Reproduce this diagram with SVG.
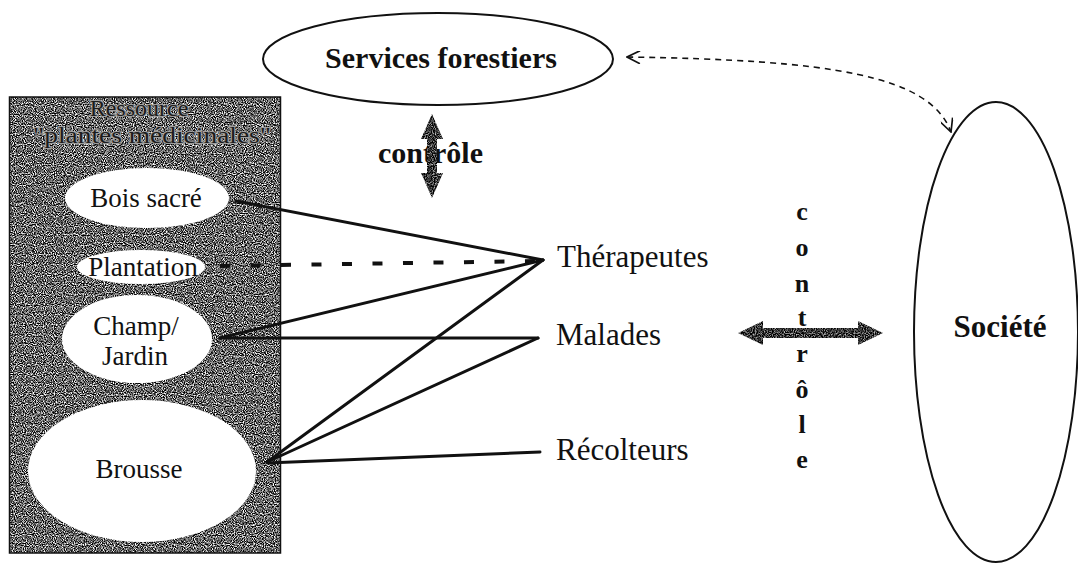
<svg xmlns="http://www.w3.org/2000/svg" width="1078" height="565" viewBox="0 0 1078 565">
  <defs>
    <style>
      text { font-family: "Liberation Serif", "Times New Roman", serif; }
      .zone-label { font-family: "Liberation Serif", "Times New Roman", serif; font-size: 27px; fill: #111; text-anchor: middle; }
      .actor { font-family: "Liberation Serif", "Times New Roman", serif; font-size: 31px; fill: #111; }
      .bold { font-family: "Liberation Serif", "Times New Roman", serif; font-weight: bold; fill: #111; }
      .title { font-family: "Liberation Serif", "Times New Roman", serif; font-size: 24px; fill: #1c1c1c; stroke: #a0a0a0; stroke-width: 2; paint-order: stroke; text-anchor: middle; }
      .zone { fill: #fff; stroke: none; }
      .link { stroke: #111; stroke-width: 3; stroke-linecap: round; fill: none; }
      .link-dash { stroke: #111; stroke-width: 4; stroke-dasharray: 10 20.5; fill: none; }
      .outline { fill: #fff; stroke: #111; stroke-width: 2; }
      .relation { fill: none; stroke: #111; stroke-width: 1.6; stroke-dasharray: 6 5; }
      .vletter { font-family: "Liberation Serif", "Times New Roman", serif; font-size: 26px; font-weight: bold; fill: #111; text-anchor: middle; }
    </style>
    <!-- grainy grey texture used for the resource box -->
    <filter id="grain" x="0%" y="0%" width="100%" height="100%" color-interpolation-filters="sRGB">
      <feTurbulence type="fractalNoise" baseFrequency="0.9" numOctaves="1" seed="7" result="noise"/>
      <feColorMatrix in="noise" type="matrix" values="1 0 0 0 0  1 0 0 0 0  1 0 0 0 0  0 0 0 0 1" result="gray"/>
      <feComponentTransfer in="gray" result="contrast">
        <feFuncR type="linear" slope="3" intercept="-1.1"/>
        <feFuncG type="linear" slope="3" intercept="-1.1"/>
        <feFuncB type="linear" slope="3" intercept="-1.1"/>
      </feComponentTransfer>
      <feComposite in="contrast" in2="SourceGraphic" operator="in"/>
    </filter>
    <!-- darker grain for the thick control arrows -->
    <filter id="grainDark" x="0%" y="0%" width="100%" height="100%" color-interpolation-filters="sRGB">
      <feTurbulence type="fractalNoise" baseFrequency="0.9" numOctaves="1" seed="3" result="noise"/>
      <feColorMatrix in="noise" type="matrix" values="1 0 0 0 0  1 0 0 0 0  1 0 0 0 0  0 0 0 0 1" result="gray"/>
      <feComponentTransfer in="gray" result="contrast">
        <feFuncR type="linear" slope="2" intercept="-0.78"/>
        <feFuncG type="linear" slope="2" intercept="-0.78"/>
        <feFuncB type="linear" slope="2" intercept="-0.78"/>
      </feComponentTransfer>
      <feComposite in="contrast" in2="SourceGraphic" operator="in"/>
    </filter>
    <marker id="chevron" viewBox="0 0 10 10" refX="10" refY="5" markerUnits="userSpaceOnUse" markerWidth="15" markerHeight="13" orient="auto-start-reverse">
      <path d="M0,0 L10,5 L0,10" fill="none" stroke="#111" stroke-width="1.3"/>
    </marker>
  </defs>

  <rect width="1078" height="565" fill="#fff"/>

  <!-- Resource container -->
  <g id="ressource">
    <rect x="9.5" y="97" width="271" height="456" fill="#555" filter="url(#grain)"/>
    <rect x="9.5" y="97" width="271" height="456" fill="none" stroke="#111" stroke-width="1.5"/>
    <text class="title" x="139" y="116">Ressource</text>
    <text class="title" x="152" y="143" textLength="238" lengthAdjust="spacingAndGlyphs">"plantes médicinales"</text>
  </g>

  <g id="bois-sacre">
    <ellipse class="zone" cx="147" cy="198" rx="82" ry="30"/>
    <text class="zone-label" x="146" y="207">Bois sacré</text>
  </g>
  <g id="plantation">
    <ellipse class="zone" cx="141" cy="267" rx="64" ry="17"/>
    <text class="zone-label" x="143" y="276">Plantation</text>
  </g>
  <g id="champ-jardin">
    <ellipse class="zone" cx="137" cy="339" rx="75" ry="44"/>
    <text class="zone-label" x="136" y="335">Champ/</text>
    <text class="zone-label" x="135" y="365">Jardin</text>
  </g>
  <g id="brousse">
    <ellipse class="zone" cx="142" cy="471" rx="114" ry="71"/>
    <text class="zone-label" x="139" y="478">Brousse</text>
  </g>

  <!-- Connectors -->
  <g id="connectors">
    <line class="link" x1="236" y1="201" x2="543" y2="260"/>
    <line class="link-dash" x1="220" y1="266" x2="535" y2="261"/>
    <line class="link" x1="220" y1="338" x2="543" y2="260"/>
    <line class="link" x1="220" y1="338" x2="538" y2="338"/>
    <line class="link" x1="267" y1="462" x2="543" y2="260"/>
    <line class="link" x1="267" y1="462" x2="538" y2="338"/>
    <line class="link" x1="267" y1="463" x2="540" y2="452"/>
    <path class="relation" d="M627 57 C830 60 930 75 951 132" marker-start="url(#chevron)" marker-end="url(#chevron)"/>
  </g>

  <g id="therapeutes">
    <text class="actor" x="557" y="267">Thérapeutes</text>
  </g>
  <g id="malades">
    <text class="actor" x="556" y="345">Malades</text>
  </g>
  <g id="recolteurs">
    <text class="actor" x="556" y="460">Récolteurs</text>
  </g>

  <g id="services-forestiers">
    <ellipse class="outline" cx="438" cy="59" rx="175" ry="46"/>
    <text class="bold" x="441" y="68" font-size="30" text-anchor="middle">Services forestiers</text>
  </g>

  <g id="controle-vertical">
    <text class="bold" x="378" y="163" font-size="30">contrôle</text>
    <polygon points="432,114 443,139 437,139 437,173 443,173 432,198 421,173 427,173 427,139 421,139" fill="#333" filter="url(#grainDark)"/>
  </g>

  <g id="controle-horizontal">
    <polygon points="738,333 763,321 763,328 858,328 858,321 883,333 858,345 858,338 763,338 763,345" fill="#333" filter="url(#grainDark)"/>
    <text class="vletter" x="802" y="220">c</text>
    <text class="vletter" x="802" y="256">o</text>
    <text class="vletter" x="802" y="292">n</text>
    <text class="vletter" x="802" y="326">t</text>
    <text class="vletter" x="802" y="362">r</text>
    <text class="vletter" x="802" y="398">ô</text>
    <text class="vletter" x="802" y="433">l</text>
    <text class="vletter" x="802" y="468">e</text>
  </g>

  <g id="societe">
    <ellipse class="outline" cx="996" cy="332" rx="82" ry="230"/>
    <text class="bold" x="1000" y="337" font-size="31" text-anchor="middle">Société</text>
  </g>
</svg>
